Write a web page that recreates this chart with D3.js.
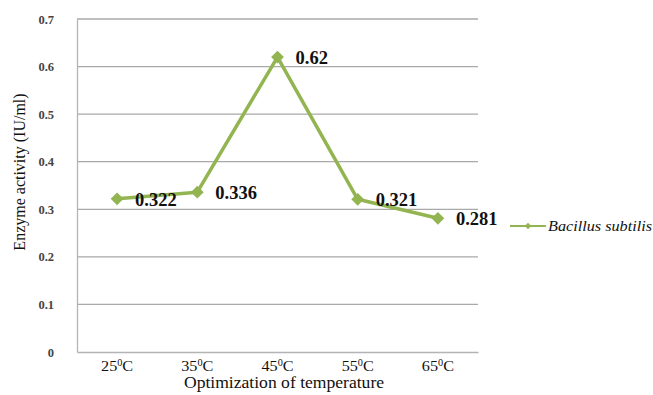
<!DOCTYPE html>
<html>
<head>
<meta charset="utf-8">
<script src="https://cdn.jsdelivr.net/npm/d3@7"></script>
<style>
  html, body { margin: 0; padding: 0; background: #fff; }
  svg { display: block; }
  #chart text { font-family: "Liberation Serif", serif !important; }
</style>
</head>
<body>
<svg id="chart" width="653" height="395"></svg>
<script>
// Enzyme activity of Bacillus subtilis at different incubation temperatures
const temperatures = ["25", "35", "45", "55", "65"];
const activity = [0.322, 0.336, 0.62, 0.321, 0.281];
const yTicks = [0, 0.1, 0.2, 0.3, 0.4, 0.5, 0.6, 0.7];
const seriesName = "Bacillus subtilis";

const svg = d3.select("#chart");
const plot = { left: 77, right: 478, top: 19, bottom: 352 };
const green = "#93b551";
const wide = 1.08; // text is set slightly wide

const x = d3.scaleBand().domain(temperatures).range([plot.left, plot.right]);
const y = d3.scaleLinear().domain([0, 0.7]).range([plot.bottom, plot.top]);
const cx = (d, i) => x(temperatures[i]) + x.bandwidth() / 2;

// horizontal gridlines
svg.append("g")
  .selectAll("line")
  .data(yTicks.slice(1))
  .join("line")
  .attr("x1", plot.left).attr("x2", plot.right)
  .attr("y1", d => y(d)).attr("y2", d => y(d))
  .attr("stroke", "#a9a9a9").attr("stroke-width", 1.3);

// y axis
const yAxis = svg.append("g")
  .attr("transform", `translate(${plot.left},0)`)
  .call(d3.axisLeft(y).tickValues(yTicks).tickSize(0).tickPadding(23)
    .tickFormat(d => d === 0 ? "0" : d3.format(".1f")(d)));
yAxis.attr("font-family", null);
yAxis.select(".domain").attr("stroke", "#b4b4b4").attr("stroke-width", 1.3);
yAxis.selectAll("text")
  .style("font-size", "12.5px").style("font-weight", "bold")
  .attr("fill", "#444");

// x axis with superscript degree labels
const xAxis = svg.append("g")
  .attr("transform", `translate(0,${plot.bottom})`)
  .call(d3.axisBottom(x).tickSize(0).tickPadding(0).tickFormat(""));
xAxis.attr("font-family", null);
xAxis.select(".domain").attr("stroke", "#b4b4b4").attr("stroke-width", 1.5);
xAxis.selectAll(".tick text").remove();
const xLabels = xAxis.selectAll(".tick").append("text")
  .attr("transform", `translate(0,19) scale(${wide},1)`)
  .attr("text-anchor", "middle")
  .style("font-size", "15px").attr("fill", "#111");
xLabels.append("tspan").text(d => d);
xLabels.append("tspan").style("font-size", "9.5px").attr("dy", -5).text("0");
xLabels.append("tspan").attr("dy", 5).text("C");

// axis titles
svg.append("text")
  .attr("transform", "translate(284,388) scale(1.1,1)")
  .attr("text-anchor", "middle")
  .style("font-size", "16px").attr("fill", "#111")
  .text("Optimization of temperature");
svg.append("text")
  .attr("transform", "translate(25,172) rotate(-90)")
  .attr("text-anchor", "middle")
  .style("font-size", "16px").attr("fill", "#111")
  .text("Enzyme activity  (IU/ml)");

// series line
const line = d3.line().x(cx).y(d => y(d));
svg.append("path")
  .datum(activity)
  .attr("d", line)
  .attr("fill", "none").attr("stroke", green).attr("stroke-width", 3.5)
  .attr("stroke-linejoin", "round");

// diamond markers (squares turned 45 degrees)
const marker = d3.symbol().type(d3.symbolSquare).size(82);
svg.append("g")
  .selectAll("path")
  .data(activity)
  .join("path")
  .attr("transform", (d, i) => `translate(${cx(d, i)},${y(d)}) rotate(45)`)
  .attr("d", marker)
  .attr("fill", green);

// value labels
svg.append("g")
  .selectAll("text")
  .data(activity)
  .join("text")
  .attr("x", (d, i) => cx(d, i) + 18)
  .attr("y", d => y(d) + 7)
  .style("font-size", "18.5px").style("font-weight", "bold")
  .attr("fill", "#111")
  .text(d => String(d));

// legend
const legend = svg.append("g").attr("transform", "translate(510,226)");
legend.append("line").attr("x1", 0).attr("x2", 36).attr("y1", 0).attr("y2", 0)
  .attr("stroke", green).attr("stroke-width", 2);
legend.append("path").attr("transform", "translate(18,0) rotate(45)")
  .attr("d", d3.symbol().type(d3.symbolSquare).size(22)).attr("fill", green);
legend.append("text").attr("transform", `translate(38,5) scale(${wide},1)`)
  .style("font-size", "15px").style("font-style", "italic")
  .attr("fill", "#111")
  .text(seriesName);
</script>
</body>
</html>
